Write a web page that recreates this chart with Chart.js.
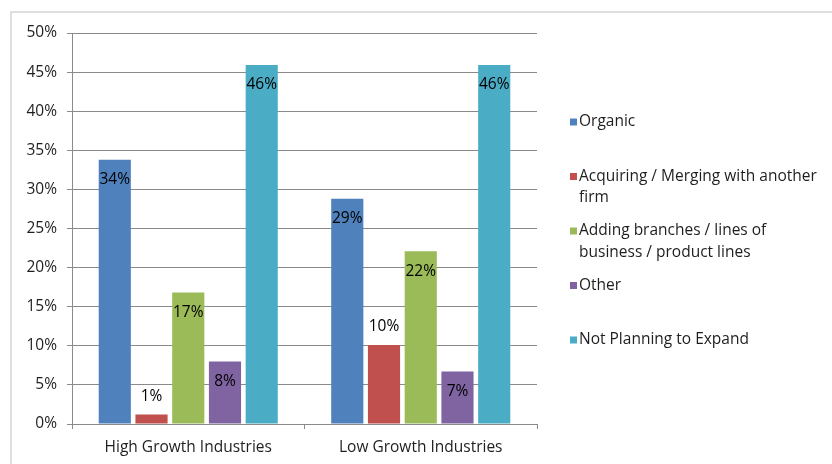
<!DOCTYPE html>
<html>
<head>
<meta charset="utf-8">
<script src="https://cdn.jsdelivr.net/npm/chart.js@4/dist/chart.umd.min.js"></script>
<style>
  html, body { margin: 0; padding: 0; background: #ffffff; }
  #wrap { position: relative; width: 832px; height: 464px; }
  canvas { display: block; }
</style>
</head>
<body>
<div id="wrap"><canvas id="chart" width="832" height="464"></canvas></div>
<script>
// Growth strategy by industry type (share of firms)
const categories = ['High Growth Industries', 'Low Growth Industries'];

const seriesNames = [
  'Organic',
  'Acquiring / Merging with another firm',
  'Adding branches / lines of business / product lines',
  'Other',
  'Not Planning to Expand'
];

const organic     = [33.8, 28.8];
const acquiring   = [1.2, 10.1];
const addingLines = [16.8, 22.1];
const other       = [8.0, 6.7];
const notPlanning = [45.9, 45.9];

const yTicks = [0, 5, 10, 15, 20, 25, 30, 35, 40, 45, 50];

const colors = ['#4F81BD', '#C0504D', '#9BBB59', '#8064A2', '#4BACC6'];

const FONT = '"Open Sans", "Liberation Sans", sans-serif';
const FONT_SIZE = 15.5;
const TEXT = '#1e1e1e';
const GRID = '#8a8a8a';

const seriesValues = [organic, acquiring, addingLines, other, notPlanning];
// label placement per series: inside the bar top, or just above it
const labelPlacement = ['inside', 'outside', 'inside', 'inside', 'inside'];

const datasets = seriesNames.map((name, i) => ({
  label: name,
  data: seriesValues[i],
  backgroundColor: colors[i],
  borderWidth: 0,
  categoryPercentage: 0.79,
  barPercentage: 0.875,
  labelPlacement: labelPlacement[i]
}));

// Light frame around the whole chart
const framePlugin = {
  id: 'frame',
  beforeDraw(chart) {
    const ctx = chart.ctx;
    ctx.save();
    ctx.fillStyle = '#ffffff';
    ctx.fillRect(0, 0, chart.width, chart.height);
    ctx.strokeStyle = '#d4d4d4';
    ctx.lineWidth = 1.5;
    ctx.strokeRect(11, 12, chart.width + 20, chart.height + 20);
    ctx.restore();
  }
};

// Percentage labels on each bar
const barLabelPlugin = {
  id: 'barLabels',
  afterDatasetsDraw(chart) {
    const ctx = chart.ctx;
    ctx.save();
    ctx.font = FONT_SIZE + 'px ' + FONT;
    ctx.fillStyle = '#000000';
    ctx.textAlign = 'center';
    ctx.textBaseline = 'middle';
    chart.data.datasets.forEach((ds, di) => {
      const meta = chart.getDatasetMeta(di);
      meta.data.forEach((bar, j) => {
        const txt = Math.round(ds.data[j]) + '%';
        const y = ds.labelPlacement === 'outside' ? bar.y - 18 : bar.y + 20;
        ctx.fillText(txt, bar.x, y);
      });
    });
    ctx.restore();
  }
};

// Legend on the right, with word wrapping
const sideLegendPlugin = {
  id: 'sideLegend',
  afterDraw(chart) {
    const ctx = chart.ctx;
    const o = chart.options.plugins.sideLegend;
    ctx.save();
    ctx.font = FONT_SIZE + 'px ' + FONT;
    ctx.textBaseline = 'middle';
    ctx.textAlign = 'left';
    chart.data.datasets.forEach((ds, i) => {
      const words = ds.label.split(' ');
      const lines = [];
      let cur = '';
      words.forEach(w => {
        const test = cur ? cur + ' ' + w : w;
        if (cur && ctx.measureText(test).width > o.maxWidth) {
          lines.push(cur);
          cur = w;
        } else {
          cur = test;
        }
      });
      if (cur) lines.push(cur);
      const y0 = o.top + i * o.itemSpacing;
      ctx.fillStyle = ds.backgroundColor;
      ctx.fillRect(o.left, y0 - o.box / 2, o.box, o.box);
      ctx.fillStyle = TEXT;
      lines.forEach((ln, k) => ctx.fillText(ln, o.textLeft, y0 + k * o.lineHeight));
    });
    ctx.restore();
  }
};

new Chart(document.getElementById('chart'), {
  type: 'bar',
  data: { labels: categories, datasets },
  plugins: [framePlugin, barLabelPlugin, sideLegendPlugin],
  options: {
    responsive: false,
    animation: false,
    layout: { padding: { left: 0, right: 295, top: 33, bottom: 0 } },
    plugins: {
      legend: { display: false },
      tooltip: { enabled: false },
      sideLegend: {
        left: 570, textLeft: 579, top: 122, itemSpacing: 54.5,
        lineHeight: 21.5, box: 7, maxWidth: 244
      }
    },
    scales: {
      x: {
        offset: true,
        grid: {
          display: true,
          offset: true,
          drawOnChartArea: false,
          drawTicks: true,
          tickLength: 5,
          color: GRID
        },
        border: { display: true, color: GRID, width: 1 },
        ticks: { color: TEXT, font: { family: FONT, size: FONT_SIZE }, padding: 9 },
        afterFit(scale) { scale.height = 40; }
      },
      y: {
        min: 0,
        max: 50,
        afterBuildTicks(scale) { scale.ticks = yTicks.map(v => ({ value: v })); },
        grid: { color: GRID, tickLength: 5, drawTicks: true },
        border: { display: true, color: GRID, width: 1 },
        ticks: {
          color: TEXT,
          font: { family: FONT, size: FONT_SIZE },
          padding: 10,
          callback: v => v + '%'
        },
        afterFit(scale) { scale.width = 72; }
      }
    }
  }
});
</script>
</body>
</html>
